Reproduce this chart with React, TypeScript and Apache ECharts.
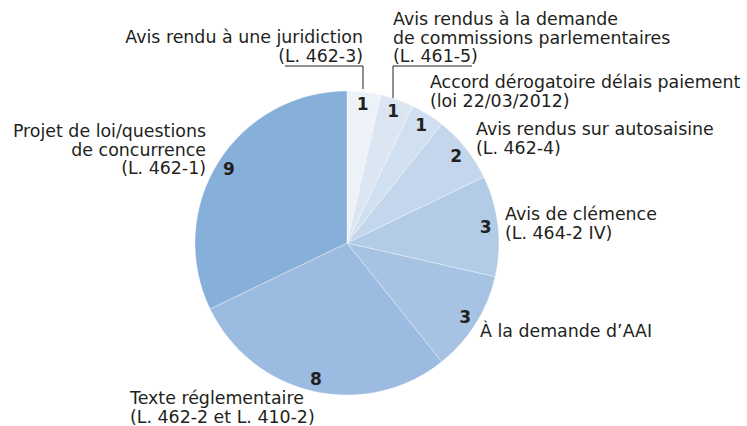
import React, { useEffect, useRef } from "react";
import * as echarts from "echarts";

const categories = [
  "Avis rendu à une juridiction\n(L. 462-3)",
  "Avis rendus à la demande\nde commissions parlementaires\n(L. 461-5)",
  "Accord dérogatoire délais paiement\n(loi 22/03/2012)",
  "Avis rendus sur autosaisine\n(L. 462-4)",
  "Avis de clémence\n(L. 464-2 IV)",
  "À la demande d’AAI",
  "Texte réglementaire\n(L. 462-2 et L. 410-2)",
  "Projet de loi/questions\nde concurrence\n(L. 462-1)",
];
const values = [1, 1, 1, 2, 3, 3, 8, 9];
const colors = ["#EDF2F8", "#DCE6F2", "#D1E0F0", "#C3D6EC", "#B2CBE7", "#A7C3E3", "#9BBBE0", "#86AFD9"];

const labelPlacement = [
  { x: 363, y: 28, align: "right" },
  { x: 393, y: 10, align: "left" },
  { x: 430, y: 73, align: "left" },
  { x: 476, y: 120, align: "left" },
  { x: 505, y: 205, align: "left" },
  { x: 480, y: 322, align: "left" },
  { x: 130, y: 389, align: "left" },
  { x: 206, y: 122, align: "right" },
];

export default function App() {
  const ref = useRef<HTMLDivElement>(null);
  useEffect(() => {
    document.body.style.margin = "0";
    const chart = echarts.init(ref.current!, null, { renderer: "svg" });
    const textColor = "#231F20";
    const graphics: any[] = categories.map((c, i) => ({
      type: "text",
      style: {
        text: c,
        x: labelPlacement[i].x,
        y: labelPlacement[i].y,
        textAlign: labelPlacement[i].align,
        align: labelPlacement[i].align,
        textVerticalAlign: "top",
        verticalAlign: "top",
        fontSize: 17.4,
        fontFamily: "DejaVu Sans",
        lineHeight: 18.5,
        fill: textColor,
      },
    }));
    graphics.push({
      type: "polyline",
      shape: { points: [[285, 66], [363, 66], [363, 89]] },
      style: { stroke: textColor, lineWidth: 1, fill: null },
    });
    graphics.push({
      type: "polyline",
      shape: { points: [[472, 66], [393, 66], [393, 100]] },
      style: { stroke: textColor, lineWidth: 1, fill: null },
    });
    const data = values.map((v, i) => ({
      value: v,
      name: categories[i],
      itemStyle: { color: colors[i] },
    }));
    chart.setOption({
      animation: false,
      backgroundColor: "#ffffff",
      graphic: graphics,
      series: [
        {
          type: "pie",
          center: [347, 243],
          radius: [0, 152],
          startAngle: 90,
          clockwise: true,
          silent: true,
          label: { show: false },
          labelLine: { show: false },
          itemStyle: { borderColor: "rgba(255,255,255,0.6)", borderWidth: 0.6 },
          data,
        },
        {
          type: "pie",
          center: [347, 243],
          radius: [122, 151],
          startAngle: 90,
          clockwise: true,
          silent: true,
          z: 3,
          itemStyle: { color: "transparent", borderWidth: 0 },
          labelLine: { show: false },
          label: {
            show: true,
            position: "inside",
            formatter: "{c}",
            color: textColor,
            fontFamily: "DejaVu Sans",
            fontWeight: "bold",
            fontSize: 17,
          },
          data: values.map((v, i) => ({ value: v, name: categories[i] })),
        },
      ],
    });
    return () => chart.dispose();
  }, []);
  return <div ref={ref} style={{ position: "absolute", left: 0, top: 0, width: 747, height: 426 }} />;
}
